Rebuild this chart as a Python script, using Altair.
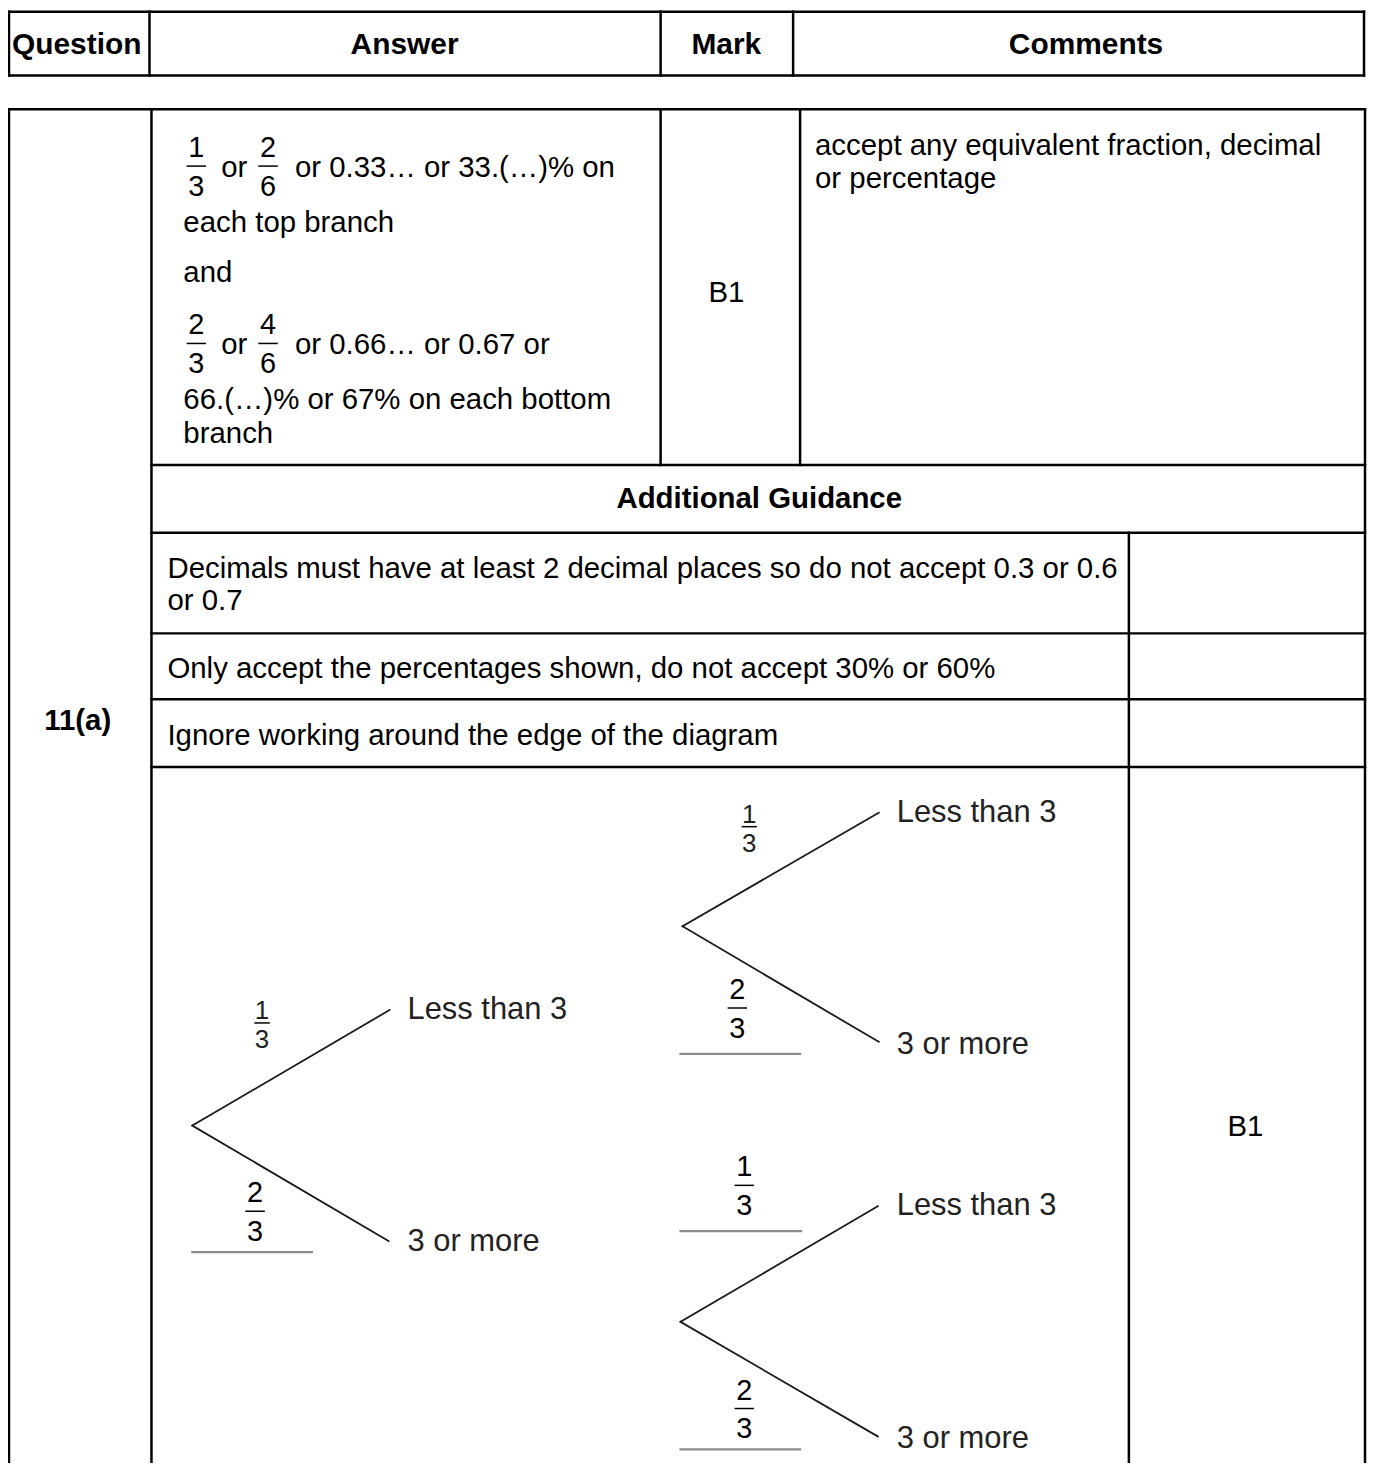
import altair as alt
import pandas as pd

FONT = "Liberation Sans"

# ---------------- table grid (reference pixel coordinates) ----------------
grid_x1 = [9, 9, 9, 1369, 150, 663, 796,
           9, 9, 152, 1370, 663, 803,
           152, 152, 152, 152, 152, 1133]
grid_x2 = [1369, 1369, 9, 1369, 150, 663, 796,
           1370, 9, 152, 1370, 663, 803,
           1370, 1370, 1370, 1370, 1370, 1133]
grid_y1 = [9, 73, 9, 9, 9, 9, 9,
           107, 107, 107, 107, 107, 107,
           464, 532, 633, 699, 767, 532]
grid_y2 = [9, 73, 73, 73, 73, 73, 73,
           107, 1470, 1470, 1470, 464, 464,
           464, 532, 633, 699, 767, 1470]

# ---------------- header ----------------
header_labels = ["Question", "Answer", "Mark", "Comments"]
header_x = [77, 406, 729, 1090]
header_y = [51, 51, 51, 51]

# ---------------- bold body labels (centered) ----------------
bold_labels = ["Additional Guidance", "11(a)"]
bold_x = [762, 78]
bold_y = [507, 730]

# ---------------- normal centred labels ----------------
mark_labels = ["B1", "B1"]
mark_x = [729, 1250]
mark_y = [300, 1137]

# ---------------- normal left-aligned body text ----------------
body_labels = [
    "or", "or 0.33… or 33.(…)% on",
    "each top branch",
    "and",
    "or", "or 0.66… or 0.67 or",
    "66.(…)% or 67% on each bottom",
    "branch",
    "accept any equivalent fraction, decimal",
    "or percentage",
    "Decimals must have at least 2 decimal places so do not accept 0.3 or 0.6",
    "or 0.7",
    "Only accept the percentages shown, do not accept 30% or 60%",
    "Ignore working around the edge of the diagram",
]
body_x = [222, 296, 184, 184, 222, 296, 184, 184, 818, 818, 168, 168, 168, 168]
body_y = [175, 175, 230, 280, 353, 353, 408, 442, 153, 186, 577, 610, 678, 745]

# ---------------- stacked fractions in the answer text and on the diagram ----------------
frac_num = ["1", "2", "2", "4", "2", "2", "1", "2"]
frac_den = ["3", "6", "3", "6", "3", "3", "3", "3"]
frac_x = [197, 269, 197, 269, 256, 740, 747, 747]
frac_bar = [164, 164, 342, 342, 1213, 1009, 1187, 1411]
frac_half = [9, 9, 9, 9, 9, 9, 9, 9]

# printed (image) fractions on the diagram, smaller & tighter
pfrac_num = ["1", "1"]
pfrac_den = ["3", "3"]
pfrac_x = [263, 752]
pfrac_bar = [1024, 827]

# answer underlines on diagram
ul_x1 = [193, 683, 683, 683]
ul_x2 = [313, 803, 804, 803]
ul_y = [1254, 1055, 1233, 1452]

# ---------------- tree diagram ----------------
branch_x1 = [193, 193, 685, 685, 683, 683]
branch_y1 = [1127, 1127, 927, 927, 1324, 1324]
branch_x2 = [391, 390, 882, 882, 881, 881]
branch_y2 = [1011, 1243, 813, 1043, 1208, 1439]

leaf_labels = ["Less than 3", "3 or more", "Less than 3", "3 or more", "Less than 3", "3 or more"]
leaf_x = [409, 409, 900, 900, 900, 900]
leaf_y = [1011, 1244, 813, 1046, 1208, 1442]

# ---------------- build tables ----------------
grid_df = pd.DataFrame({"x": grid_x1, "x2": grid_x2, "y": grid_y1, "y2": grid_y2})
header_df = pd.DataFrame({"x": header_x, "y": header_y, "label": header_labels})
bold_df = pd.DataFrame({"x": bold_x, "y": bold_y, "label": bold_labels})
mark_df = pd.DataFrame({"x": mark_x, "y": mark_y, "label": mark_labels})
body_df = pd.DataFrame({"x": body_x, "y": body_y, "label": body_labels})

fr_rows = []
bar_rows = []
for n, d, x, b, h in zip(frac_num, frac_den, frac_x, frac_bar, frac_half):
    fr_rows.append({"x": x, "y": b - 9, "label": n})
    fr_rows.append({"x": x, "y": b + 30, "label": d})
    bar_rows.append({"x": x - h, "x2": x + h, "y": b, "y2": b})
frac_df = pd.DataFrame(fr_rows)

pfr_rows = []
for n, d, x, b in zip(pfrac_num, pfrac_den, pfrac_x, pfrac_bar):
    pfr_rows.append({"x": x, "y": b - 4, "label": n})
    pfr_rows.append({"x": x, "y": b + 25, "label": d})
    bar_rows.append({"x": x - 7, "x2": x + 7, "y": b, "y2": b})
pfrac_df = pd.DataFrame(pfr_rows)
bar_df = pd.DataFrame(bar_rows)

ul_df = pd.DataFrame({"x": ul_x1, "x2": ul_x2, "y": ul_y, "y2": ul_y})
branch_df = pd.DataFrame({"x": branch_x1, "x2": branch_x2, "y": branch_y1, "y2": branch_y2})
leaf_df = pd.DataFrame({"x": leaf_x, "y": leaf_y, "label": leaf_labels})

W, H = 1364, 1455
xs = alt.Scale(domain=[8, 8 + W], nice=False, zero=False)
ys = alt.Scale(domain=[8, 8 + H], nice=False, zero=False, reverse=True)


def seg(df, color, width):
    return alt.Chart(df).mark_rule(color=color, strokeWidth=width, strokeCap="square").encode(
        x=alt.X("x:Q", scale=xs, axis=None),
        x2="x2:Q",
        y=alt.Y("y:Q", scale=ys, axis=None),
        y2="y2:Q",
    )


def txt(df, align, size, weight="normal", color="#000000", baseline="alphabetic"):
    return alt.Chart(df).mark_text(
        align=align, baseline=baseline, font=FONT, fontSize=size, fontWeight=weight, color=color
    ).encode(
        x=alt.X("x:Q", scale=xs, axis=None),
        y=alt.Y("y:Q", scale=ys, axis=None),
        text="label:N",
    )


chart = alt.layer(
    seg(grid_df, "#000000", 2.5),
    seg(branch_df, "#1a1a1a", 1.8),
    seg(ul_df, "#8c8c8c", 2.2),
    seg(bar_df, "#000000", 1.5),
    txt(header_df, "center", 30, "bold"),
    txt(bold_df, "center", 29.5, "bold"),
    txt(mark_df, "center", 29.5),
    txt(body_df, "left", 29.5),
    txt(frac_df, "center", 29),
    txt(pfrac_df, "center", 26, color="#222222"),
    txt(leaf_df, "left", 31, color="#222222", baseline="middle"),
).properties(
    width=W, height=H, padding=0, autosize=alt.AutoSizeParams(type="none"), background="white"
).configure_view(stroke=None)

chart.save("out.html", embed_options={"renderer": "svg", "actions": False})
